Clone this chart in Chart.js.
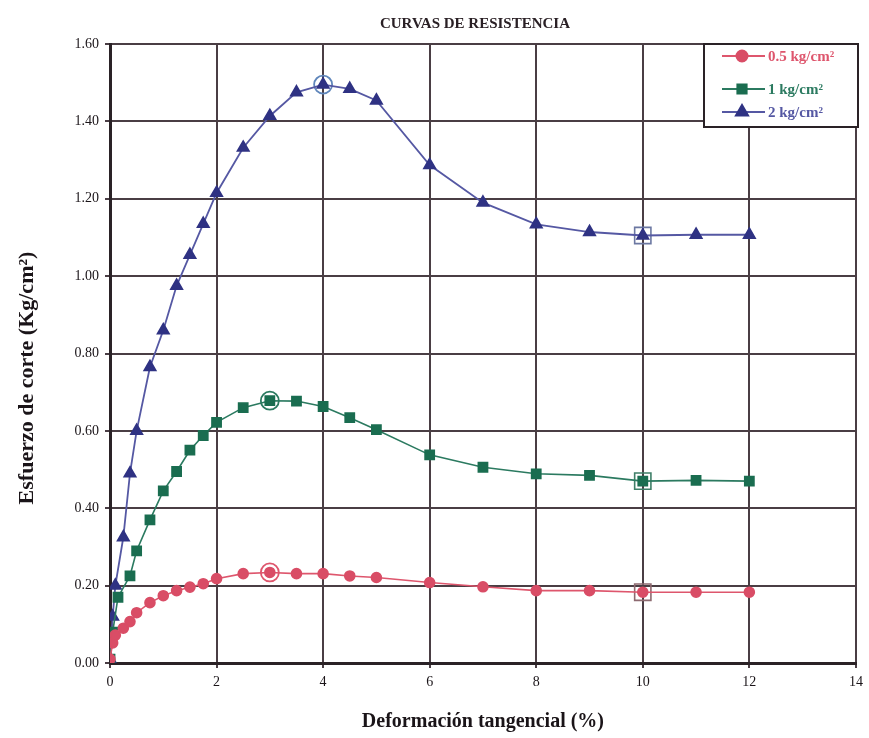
<!DOCTYPE html>
<html>
<head>
<meta charset="utf-8">
<script src="https://cdn.jsdelivr.net/npm/chart.js@4.4.1/dist/chart.umd.min.js"></script>
<style>
  html, body { margin: 0; padding: 0; background: #ffffff; }
  #wrap { width: 869px; height: 738px; }
</style>
</head>
<body>
<div id="wrap"><canvas id="c" width="869" height="738"></canvas></div>
<script>
// ---- data ----
const chartTitle = "CURVAS DE RESISTENCIA";
const xTitle = "Deformación tangencial (%)";
const yTitle = "Esfuerzo de corte (Kg/cm²)";
const seriesNames = ["0.5 kg/cm²", "1 kg/cm²", "2 kg/cm²"];

const redX   = [0, 0.05, 0.1, 0.25, 0.375, 0.5, 0.75, 1, 1.25, 1.5, 1.75, 2, 2.5, 3, 3.5, 4, 4.5, 5, 6, 7, 8, 9, 10, 11, 12];
const redY   = [0.01, 0.052, 0.072, 0.09, 0.107, 0.13, 0.156, 0.174, 0.187, 0.196, 0.205, 0.218, 0.231, 0.234, 0.231, 0.231, 0.225, 0.221, 0.208, 0.197, 0.187, 0.187, 0.183, 0.183, 0.183];

const greenX = [0, 0.05, 0.15, 0.375, 0.5, 0.75, 1, 1.25, 1.5, 1.75, 2, 2.5, 3, 3.5, 4, 4.5, 5, 6, 7, 8, 9, 10, 11, 12];
const greenY = [0.01, 0.08, 0.17, 0.225, 0.29, 0.37, 0.445, 0.495, 0.55, 0.588, 0.622, 0.66, 0.678, 0.677, 0.663, 0.634, 0.603, 0.538, 0.506, 0.489, 0.485, 0.47, 0.472, 0.47];

const blueX  = [0, 0.05, 0.1, 0.25, 0.375, 0.5, 0.75, 1, 1.25, 1.5, 1.75, 2, 2.5, 3, 3.5, 4, 4.5, 5, 6, 7, 8, 9, 10, 11, 12];
const blueY  = [0.01, 0.12, 0.2, 0.325, 0.49, 0.60, 0.765, 0.86, 0.975, 1.055, 1.135, 1.215, 1.332, 1.414, 1.475, 1.495, 1.484, 1.454, 1.287, 1.19, 1.134, 1.114, 1.105, 1.107, 1.107];

// peak (circled) and residual (boxed) points
const peakX = [3, 3, 4];
const peakY = [0.234, 0.678, 1.495];
const residX = [10, 10, 10];
const residY = [0.183, 0.47, 1.105];

const xTicks = [0, 2, 4, 6, 8, 10, 12, 14];
const yTicks = [0, 0.2, 0.4, 0.6, 0.8, 1.0, 1.2, 1.4, 1.6];

// ---- styles ----
const colRed = "#de566d", colGreen = "#2b7a60", colBlue = "#5558a3";
const mkRed = "#d94d66", mkGreen = "#1a6d50", mkBlue = "#2f3283";
const serif = "'Liberation Serif', 'DejaVu Serif', serif";
const gridCol = "#4a3e44";

function pts(xs, ys) { return xs.map((x, i) => ({ x: x, y: ys[i] })); }

const titlePlugin = {
  id: "titles",
  afterDraw(chart) {
    const ctx = chart.ctx;
    ctx.save();
    ctx.fillStyle = "#2a2025";
    ctx.font = "bold 15px " + serif;
    ctx.textAlign = "center";
    ctx.textBaseline = "alphabetic";
    ctx.fillText(chartTitle, 475, 28);
    // y axis title
    ctx.fillStyle = "#1a1418";
    ctx.font = "bold 22px " + serif;
    ctx.translate(27, 378);
    ctx.rotate(-Math.PI / 2);
    ctx.textBaseline = "middle";
    ctx.fillText(yTitle, 0, 0);
    ctx.restore();
  }
};

const legendPlugin = {
  id: "insideLegend",
  afterDraw(chart) {
    const ctx = chart.ctx;
    const L = 704, T = 44, R = 858, B = 127;
    ctx.save();
    ctx.fillStyle = "#ffffff";
    ctx.fillRect(L, T, R - L, B - T);
    ctx.strokeStyle = "#2a2226";
    ctx.lineWidth = 2;
    ctx.strokeRect(L, T, R - L, B - T);
    const rows = [56, 89, 112];
    const radii = [5.5, 6.5, 7];
    for (let i = 0; i < 3; i++) {
      const ds = chart.data.datasets[i];
      const y = rows[i];
      ctx.strokeStyle = ds.borderColor;
      ctx.lineWidth = 2;
      ctx.beginPath(); ctx.moveTo(722, y); ctx.lineTo(765, y); ctx.stroke();
      ctx.fillStyle = ds.pointBackgroundColor;
      ctx.strokeStyle = ds.pointBackgroundColor;
      Chart.helpers.drawPoint(ctx, { pointStyle: ds.pointStyle, radius: radii[i], borderWidth: 1, rotation: 0 }, 742, y);
      ctx.fillStyle = ds.borderColor;
      ctx.font = "bold 15px " + serif;
      ctx.textBaseline = "middle";
      ctx.textAlign = "left";
      ctx.fillText(seriesNames[i], 768, y + 1);
    }
    ctx.restore();
  }
};

const ctx = document.getElementById("c").getContext("2d");
new Chart(ctx, {
  type: "scatter",
  data: {
    datasets: [
      { label: seriesNames[0], data: pts(redX, redY), showLine: true, borderColor: colRed, backgroundColor: mkRed,
        pointBackgroundColor: mkRed, pointBorderColor: mkRed,
        borderWidth: 1.6, pointStyle: "circle", pointRadius: 5, pointHoverRadius: 5, tension: 0 },
      { label: seriesNames[1], data: pts(greenX, greenY), showLine: true, borderColor: colGreen, backgroundColor: mkGreen,
        pointBackgroundColor: mkGreen, pointBorderColor: mkGreen,
        borderWidth: 1.6, pointStyle: "rect", pointRadius: 6.5, pointHoverRadius: 6.5, tension: 0 },
      { label: seriesNames[2], data: pts(blueX, blueY), showLine: true, borderColor: colBlue, backgroundColor: mkBlue,
        pointBackgroundColor: mkBlue, pointBorderColor: mkBlue,
        borderWidth: 1.8, pointStyle: "triangle", pointRadius: 6.5, pointHoverRadius: 6.5, tension: 0 },
      { label: "peak", data: pts(peakX, peakY), showLine: false, backgroundColor: "rgba(0,0,0,0)",
        pointBackgroundColor: "rgba(0,0,0,0)",
        borderColor: [colRed, colGreen, "#5f86bb"], pointBorderColor: [colRed, colGreen, "#5f86bb"],
        pointStyle: "circle", pointRadius: 9, pointBorderWidth: 1.8 },
      { label: "resid", data: pts(residX, residY), showLine: false, backgroundColor: "rgba(0,0,0,0)",
        pointBackgroundColor: "rgba(0,0,0,0)",
        pointBorderColor: ["#8d6a70", "#3f7f68", "#6c78a2"], borderColor: "#777",
        pointStyle: "rect", pointRadius: 11.5, pointBorderWidth: 1.6 }
    ]
  },
  options: {
    responsive: false,
    animation: false,
    layout: { padding: { left: 0, right: 7, top: 44, bottom: 0 } },
    plugins: {
      legend: { display: false },
      tooltip: { enabled: false },
      title: { display: false }
    },
    scales: {
      x: {
        type: "linear", min: 0, max: 14,
        afterBuildTicks(scale) { scale.ticks = xTicks.map(v => ({ value: v })); },
        afterFit(scale) { scale.height = 75; },
        ticks: { color: "#1a1418", font: { family: serif, size: 14 }, padding: 6,
                 callback: v => String(v) },
        grid: { color: gridCol, lineWidth: 2, tickLength: 5, tickColor: gridCol },
        border: { color: "#2a2226", width: 3 },
        title: { display: true, text: xTitle, color: "#1a1418",
                 font: { family: serif, size: 20, weight: "bold" }, padding: { top: 12 } }
      },
      y: {
        type: "linear", min: 0, max: 1.6,
        afterBuildTicks(scale) { scale.ticks = yTicks.map(v => ({ value: v })); },
        afterFit(scale) { scale.width = 110; },
        ticks: { color: "#1a1418", font: { family: serif, size: 14 }, padding: 6,
                 callback: v => v.toFixed(2) },
        grid: { color: gridCol, lineWidth: 2, tickLength: 5, tickColor: gridCol },
        border: { color: "#2a2226", width: 3 },
        title: { display: false }
      }
    }
  },
  plugins: [legendPlugin, titlePlugin]
});
</script>
</body>
</html>
